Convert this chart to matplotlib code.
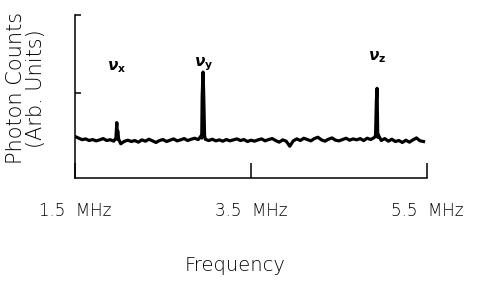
import matplotlib.pyplot as plt
import numpy as np

# baseline trace, one value every 0.04 MHz from 1.5 MHz
base_counts = [25.5, 24.5, 23.5, 24.0, 23.0, 23.6, 22.8, 23.4, 24.2, 23.0,
               23.5, 22.6, 23.8, 21.0, 22.5, 23.2, 22.4, 23.0, 22.0, 23.4,
               22.6, 23.8, 22.8, 21.8, 23.0, 23.6, 22.4, 23.2, 24.0, 22.8,
               23.4, 24.2, 23.0, 23.8, 24.4, 23.6, 24.5, 23.8, 23.0, 23.8,
               22.8, 23.4, 22.6, 23.6, 22.8, 23.4, 24.0, 23.0, 23.6, 22.4,
               23.2, 22.6, 23.4, 24.0, 22.8, 23.6, 24.2, 23.0, 22.0, 23.4,
               22.6, 19.5, 22.8, 24.0, 23.0, 24.4, 23.6, 22.8, 24.2, 25.0,
               23.4, 22.6, 23.8, 24.6, 23.2, 22.8, 23.6, 24.4, 23.2, 24.0,
               23.4, 24.2, 23.0, 24.4, 23.6, 24.8, 25.0, 23.0, 24.2, 22.6,
               23.8, 22.4, 23.0, 21.8, 23.2, 22.0, 23.4, 24.6, 22.8, 22.4]
base_freq = np.linspace(1.5, 5.46, len(base_counts))

# resonance peaks
peak_freq = [1.965, 1.975, 1.985, 1.995,
             2.935, 2.945, 2.955, 2.962, 2.972,
             4.915, 4.925, 4.932, 4.940]
peak_counts = [24.5, 34.0, 29.0, 24.0,
               26.0, 50.0, 65.0, 52.0, 26.0,
               26.0, 48.0, 55.0, 27.0]

labels = [r'$\boldsymbol{\nu}_{\mathbf{x}}$', r'$\boldsymbol{\nu}_{\mathbf{y}}$', r'$\boldsymbol{\nu}_{\mathbf{z}}$']
label_freq = [1.97, 2.96, 4.93]
label_y = [68, 70, 74]

xticks = [1.5, 3.5, 5.5]
xticklabels = ['1.5  MHz', '3.5  MHz', '5.5  MHz']

freq = np.concatenate([base_freq, peak_freq])
counts = np.concatenate([base_counts, peak_counts])
order = np.argsort(freq)

fig = plt.figure(figsize=(4.79, 2.85), dpi=100)
ax = fig.add_axes([0.1566, 0.3754, 0.7349, 0.5719])
ax.plot(freq[order], counts[order], color='black', linewidth=2.3)

for lab, f, y in zip(labels, label_freq, label_y):
    ax.text(f, y, lab, ha='center', va='center', fontsize=11)

ax.set_xlim(1.5, 5.5)
ax.set_ylim(0, 100)
ax.spines['top'].set_visible(False)
ax.spines['right'].set_visible(False)
ax.spines['left'].set_linewidth(1.1)
ax.spines['bottom'].set_linewidth(1.1)

ax.set_xticks(xticks, xticklabels)
ax.tick_params(axis='x', direction='in', length=11, width=1.1, pad=17, labelsize=12)
ax.set_yticks([52, 100], [])
ax.tick_params(axis='y', direction='in', length=4.5, width=1.1)
for t in ax.get_xticklabels():
    t.set_fontweight('light')

fig.text(0.49, 0.07, 'Frequency', ha='center', va='center', fontsize=14, fontweight='light')
fig.text(0.055, 0.69, 'Photon Counts\n(Arb. Units)', ha='center', va='center',
         rotation=90, fontsize=15, fontweight='light', linespacing=1.0)

fig.savefig('out.png', dpi=100)
